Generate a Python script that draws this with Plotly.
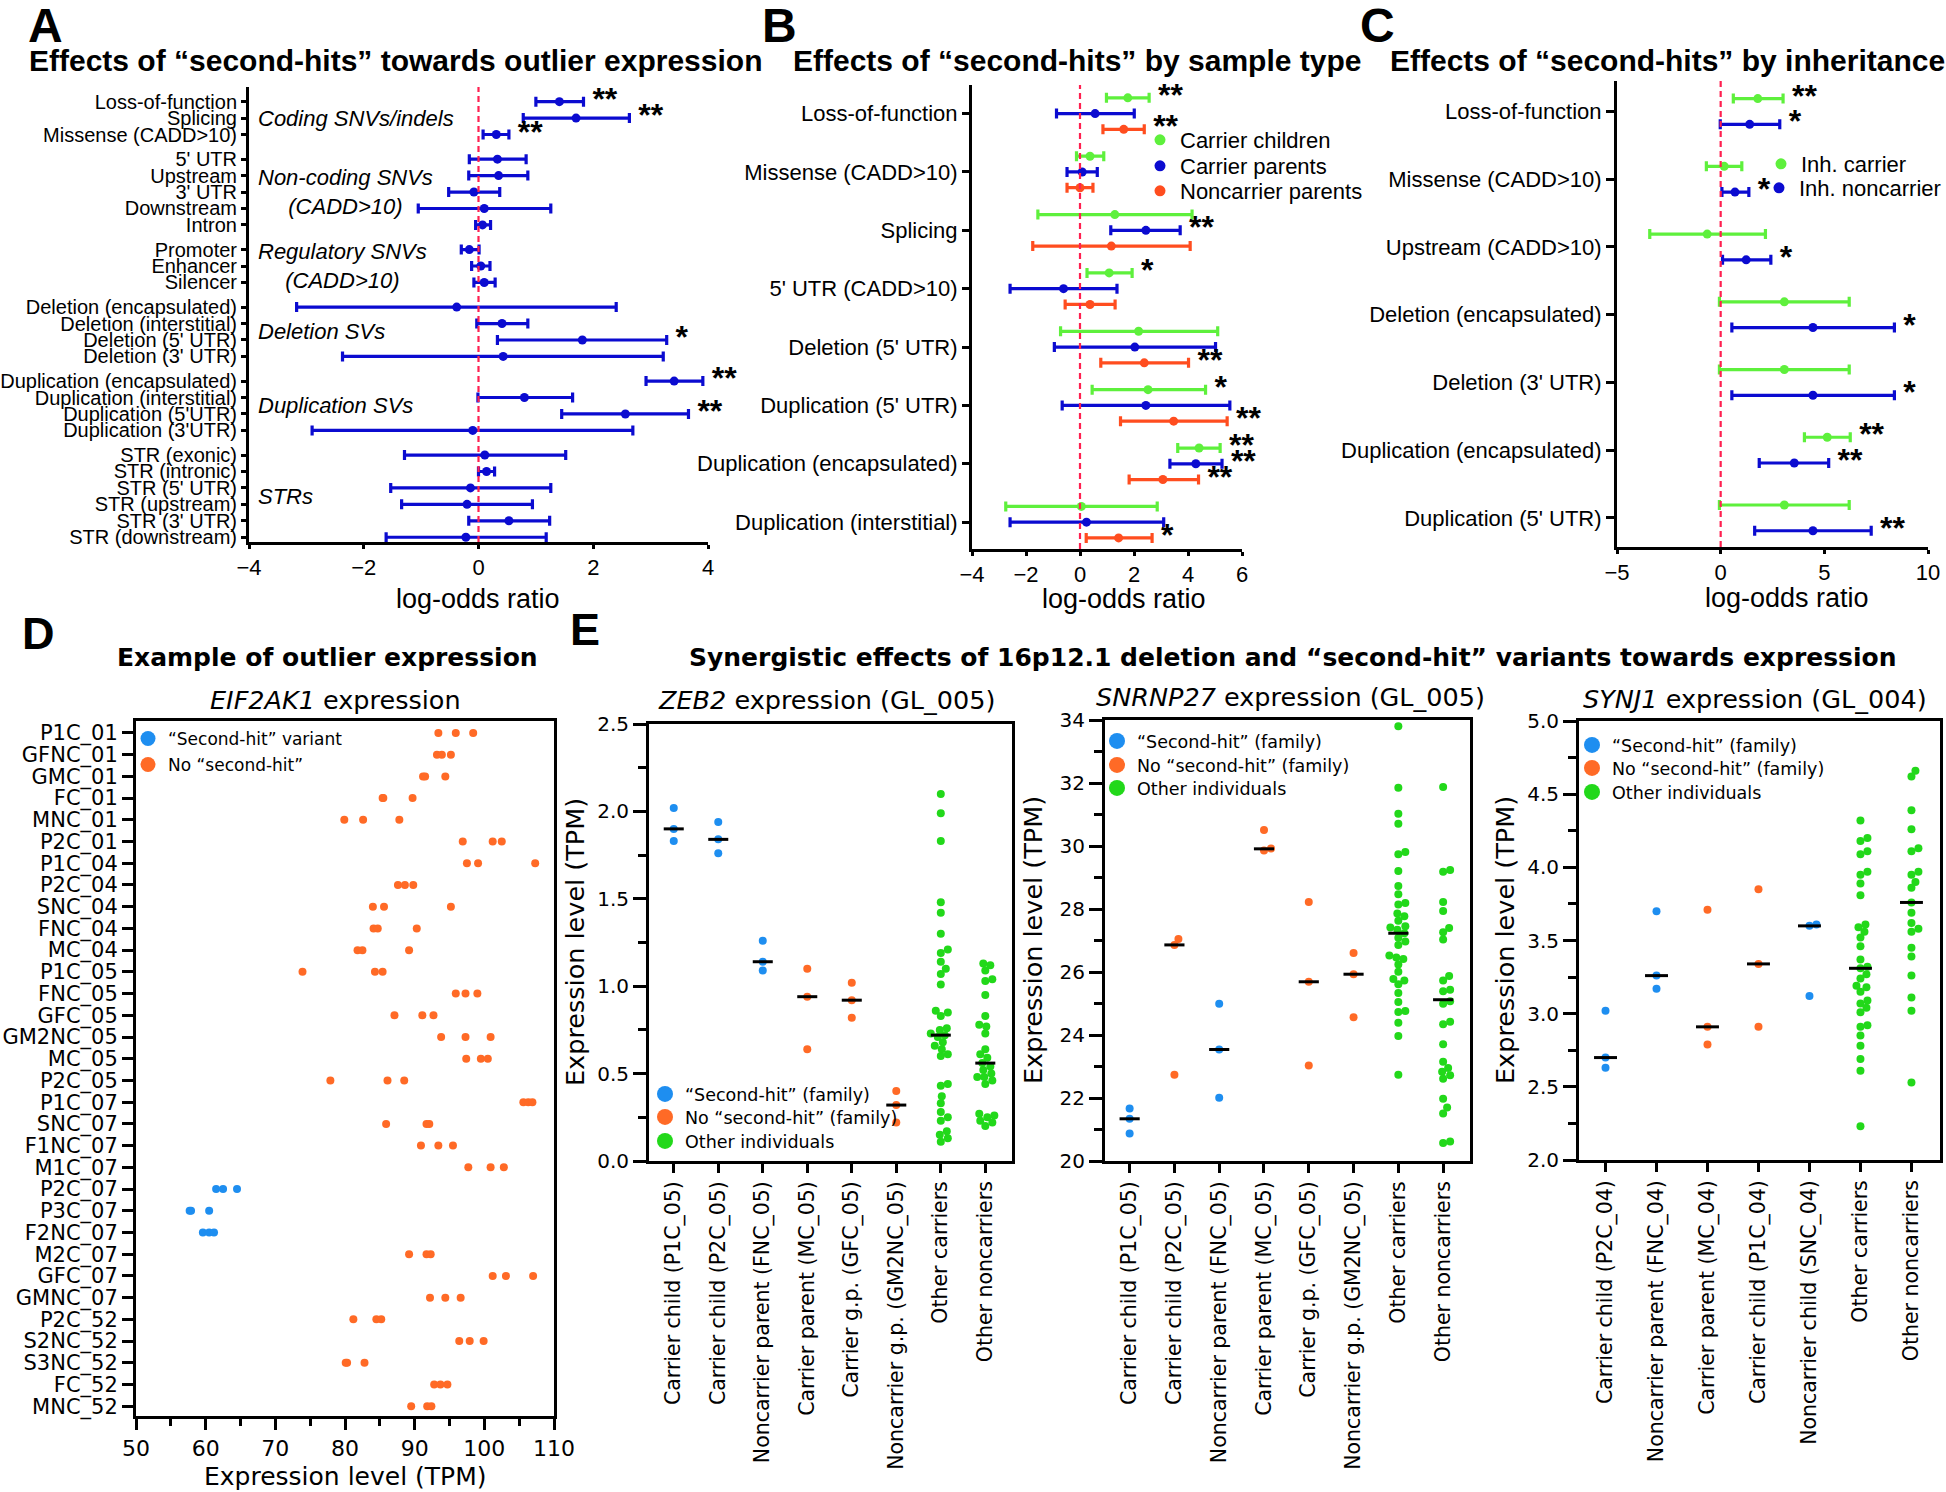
import numpy as np
import plotly.graph_objects as go

W, H = 1946, 1492
def px(x): return x / W
def py(y): return 1 - y / H

FA = "Liberation Sans, Arial, sans-serif"
FD = "DejaVu Sans, Verdana, sans-serif"

BLUE_A = "#0b0bd0"; GREEN_A = "#5ef03c"; RED_A = "#ff4d1f"
BLUE_E = "#1e8ef0"; ORANGE_E = "#ff6a26"; GREEN_E = "#22d81a"

# ---------------- Panel A data ----------------
a_labels = ["Loss-of-function", "Splicing", "Missense (CADD>10)",
            "5' UTR", "Upstream", "3' UTR", "Downstream", "Intron",
            "Promoter", "Enhancer", "Silencer",
            "Deletion (encapsulated)", "Deletion (interstitial)", "Deletion (5' UTR)", "Deletion (3' UTR)",
            "Duplication (encapsulated)", "Duplication (interstitial)", "Duplication (5'UTR)", "Duplication (3'UTR)",
            "STR (exonic)", "STR (intronic)", "STR (5' UTR)", "STR (upstream)", "STR (3' UTR)", "STR (downstream)"]
a_group_names = ["<i>Coding SNVs/indels</i>", "<i>Non-coding SNVs<br>(CADD>10)</i>", "<i>Regulatory SNVs<br>(CADD>10)</i>",
                 "<i>Deletion SVs</i>", "<i>Duplication SVs</i>", "<i>STRs</i>"]
a_group_sizes = [3, 5, 3, 4, 4, 6]
a_est = [1.41, 1.70, 0.31, 0.33, 0.35, -0.08, 0.10, 0.07, -0.16, 0.04, 0.10, -0.38, 0.41, 1.81, 0.43,
         3.41, 0.80, 2.56, -0.10, 0.11, 0.14, -0.14, -0.20, 0.53, -0.22]
a_lo = [1.00, 0.78, 0.08, -0.16, -0.17, -0.52, -1.05, -0.05, -0.30, -0.12, -0.08, -3.17, -0.03, 0.33, -2.37,
        2.92, -0.01, 1.45, -2.90, -1.29, 0.00, -1.53, -1.34, -0.17, -1.61]
a_hi = [1.83, 2.63, 0.53, 0.83, 0.86, 0.37, 1.26, 0.21, 0.01, 0.20, 0.29, 2.40, 0.86, 3.28, 3.22,
        3.91, 1.64, 3.66, 2.69, 1.52, 0.28, 1.26, 0.94, 1.24, 1.18]
a_sig = ["**", "**", "**", "", "", "", "", "", "", "", "", "", "", "*", "",
         "**", "", "**", "", "", "", "", "", "", ""]

# ---------------- Panel B data ----------------
b_cats = ["Loss-of-function", "Missense (CADD>10)", "Splicing", "5' UTR (CADD>10)", "Deletion (5' UTR)",
          "Duplication (5' UTR)", "Duplication (encapsulated)", "Duplication (interstitial)"]
b_child_est = [1.77, 0.37, 1.29, 1.08, 2.17, 2.52, 4.41, 0.05]
b_child_lo = [0.98, -0.13, -1.56, 0.26, -0.72, 0.45, 3.62, -2.75]
b_child_hi = [2.56, 0.88, 4.15, 1.93, 5.10, 4.65, 5.19, 2.86]
b_child_sig = ["**", "", "", "*", "", "*", "**", ""]
b_par_est = [0.56, 0.08, 2.44, -0.61, 2.03, 2.44, 4.29, 0.24]
b_par_lo = [-0.87, -0.48, 1.14, -2.59, -0.95, -0.66, 3.33, -2.59]
b_par_hi = [2.01, 0.64, 3.71, 1.37, 5.02, 5.55, 5.26, 3.10]
b_par_sig = ["", "", "**", "", "", "", "**", ""]
b_nc_est = [1.62, 0.00, 1.16, 0.37, 2.38, 3.47, 3.07, 1.43]
b_nc_lo = [0.85, -0.48, -1.75, -0.55, 0.77, 1.50, 1.82, 0.23]
b_nc_hi = [2.38, 0.48, 4.08, 1.30, 4.02, 5.45, 4.39, 2.67]
b_nc_sig = ["**", "", "", "", "**", "**", "**", "*"]

# ---------------- Panel C data ----------------
c_cats = ["Loss-of-function", "Missense (CADD>10)", "Upstream (CADD>10)", "Deletion (encapsulated)",
          "Deletion (3' UTR)", "Duplication (encapsulated)", "Duplication (5' UTR)"]
c_car_est = [1.79, 0.17, -0.65, 3.07, 3.07, 5.14, 3.07]
c_car_lo = [0.61, -0.69, -3.42, -0.06, -0.06, 4.04, -0.06]
c_car_hi = [3.01, 1.02, 2.16, 6.20, 6.20, 6.25, 6.20]
c_car_sig = ["**", "", "", "", "", "**", ""]
c_non_est = [1.40, 0.69, 1.23, 4.45, 4.45, 3.55, 4.45]
c_non_lo = [-0.02, 0.06, 0.09, 0.54, 0.54, 1.86, 1.64]
c_non_hi = [2.85, 1.36, 2.42, 8.38, 8.38, 5.21, 7.26]
c_non_sig = ["*", "*", "*", "*", "*", "**", "**"]

# ---------------- Panel D data ----------------
d_samples = ["P1C_01", "GFNC_01", "GMC_01", "FC_01", "MNC_01", "P2C_01", "P1C_04", "P2C_04", "SNC_04",
             "FNC_04", "MC_04", "P1C_05", "FNC_05", "GFC_05", "GM2NC_05", "MC_05", "P2C_05", "P1C_07",
             "SNC_07", "F1NC_07", "M1C_07", "P2C_07", "P3C_07", "F2NC_07", "M2C_07", "GFC_07", "GMNC_07",
             "P2C_52", "S2NC_52", "S3NC_52", "FC_52", "MNC_52"]
d_tpm = [[93.4, 95.9, 98.4], [93.2, 93.9, 95.2], [91.2, 91.5, 94.4], [85.4, 85.5, 89.7], [79.9, 82.6, 87.8],
         [96.9, 101.2, 102.5], [97.5, 99.1, 107.3], [87.6, 88.6, 89.8], [84.0, 85.6, 95.2], [84.1, 84.7, 90.3],
         [81.8, 82.5, 89.2], [73.9, 84.3, 85.4], [95.9, 97.3, 99.0], [87.1, 91.1, 92.7], [93.8, 97.3, 100.9],
         [97.4, 99.5, 100.5], [77.9, 86.1, 88.5], [105.6, 106.3, 106.9], [85.9, 91.7, 92.1], [90.9, 93.4, 95.5],
         [97.7, 100.9, 102.8], [61.5, 62.5, 64.5], [57.7, 57.9, 60.5], [59.6, 60.5, 61.2], [89.2, 91.7, 92.3],
         [101.2, 103.1, 107.0], [92.2, 94.4, 96.6], [81.2, 84.5, 85.2], [96.4, 97.9, 99.9], [80.1, 80.3, 82.8],
         [92.8, 93.7, 94.7], [89.5, 91.8, 92.4]]
d_second_hit = ["P2C_07", "P3C_07", "F2NC_07"]

# ---------------- Panel E data ----------------
e_cats_05 = ["Carrier child (P1C_05)", "Carrier child (P2C_05)", "Noncarrier parent (FNC_05)",
             "Carrier parent (MC_05)", "Carrier g.p. (GFC_05)", "Noncarrier g.p. (GM2NC_05)",
             "Other carriers", "Other noncarriers"]
e_cats_04 = ["Carrier child (P2C_04)", "Noncarrier parent (FNC_04)", "Carrier parent (MC_04)",
             "Carrier child (P1C_04)", "Noncarrier child (SNC_04)", "Other carriers", "Other noncarriers"]

e1_group = ["hit", "hit", "hit", "nohit", "nohit", "nohit", "other", "other"]
e1_vals = [[2.02, 1.90, 1.83], [1.94, 1.84, 1.76], [1.26, 1.14, 1.09], [1.10, 0.94, 0.64],
           [1.02, 0.92, 0.82], [0.40, 0.32, 0.22],
           [2.10, 1.99, 1.83, 1.48, 1.42, 1.30, 1.21, 1.19, 1.14, 1.10, 1.07, 1.01, 0.86, 0.85, 0.83, 0.76,
            0.75, 0.73, 0.72, 0.71, 0.68, 0.66, 0.64, 0.61, 0.60, 0.44, 0.43, 0.37, 0.33, 0.28, 0.25, 0.23,
            0.17, 0.15, 0.13, 0.11],
           [1.13, 1.12, 1.09, 1.04, 1.03, 0.95, 0.83, 0.78, 0.77, 0.73, 0.64, 0.61, 0.59, 0.56, 0.54, 0.52,
            0.50, 0.48, 0.48, 0.46, 0.44, 0.27, 0.26, 0.25, 0.23, 0.22, 0.20]]
e1_median = [1.90, 1.84, 1.14, 0.94, 0.92, 0.32, 0.72, 0.56]

e2_group = ["hit", "nohit", "hit", "nohit", "nohit", "nohit", "other", "other"]
e2_vals = [[21.67, 21.34, 20.87], [27.05, 26.86, 22.74], [24.99, 23.54, 22.01], [30.51, 29.92, 29.86],
           [28.22, 25.69, 23.03], [26.60, 25.93, 24.56],
           [33.80, 31.85, 31.02, 30.71, 29.74, 29.81, 29.21, 28.73, 28.47, 28.19, 28.14, 27.86, 27.77, 27.63,
            27.45, 27.41, 27.34, 27.23, 27.09, 26.97, 26.86, 26.52, 26.46, 26.41, 26.24, 26.01, 25.78, 25.73,
            25.61, 25.33, 25.05, 24.76, 24.73, 24.39, 23.97, 22.74],
           [31.87, 29.24, 29.18, 28.22, 27.94, 27.40, 27.26, 27.03, 25.87, 25.73, 25.44, 25.39, 25.07, 24.99,
            24.42, 24.34, 23.71, 23.15, 22.95, 22.83, 22.72, 22.61, 21.98, 21.70, 21.51, 20.62, 20.57]]
e2_median = [21.34, 26.86, 23.54, 29.91, 25.69, 25.93, 27.23, 25.12]

e3_group = ["hit", "hit", "nohit", "nohit", "hit", "other", "other"]
e3_vals = [[3.02, 2.70, 2.63], [3.70, 3.26, 3.17], [3.71, 2.91, 2.79], [3.85, 3.34, 2.91], [3.61, 3.60, 3.12],
           [4.32, 4.20, 4.18, 4.11, 4.09, 3.97, 3.95, 3.89, 3.81, 3.61, 3.59, 3.56, 3.52, 3.46, 3.37, 3.32,
            3.31, 3.27, 3.24, 3.19, 3.18, 3.15, 3.09, 3.07, 3.04, 3.01, 2.92, 2.91, 2.85, 2.78, 2.69, 2.61, 2.23],
           [4.66, 4.62, 4.39, 4.26, 4.13, 4.11, 3.97, 3.95, 3.90, 3.86, 3.76, 3.69, 3.62, 3.58, 3.56, 3.45,
            3.39, 3.26, 3.11, 3.02, 2.53]]
e3_median = [2.70, 3.26, 2.91, 3.34, 3.60, 3.31, 3.76]

e_legend_names = ["“Second-hit” (family)", "No “second-hit” (family)", "Other individuals"]
e_colors = {"hit": BLUE_E, "nohit": ORANGE_E, "other": GREEN_E}

fig = go.Figure()
lay = {}

# ---------------- helpers ----------------
def s_text(sig):
    return [(" " + s) if s else "" for s in sig]

def forest(xa, ya, est, lo, hi, ypos, color, sig):
    est = np.array(est); lo = np.array(lo); hi = np.array(hi)
    fig.add_trace(go.Scatter(
        x=est, y=ypos, mode="markers", xaxis=xa, yaxis=ya, showlegend=False,
        marker=dict(color=color, size=9),
        error_x=dict(type="data", symmetric=False, array=hi - est, arrayminus=est - lo,
                     color=color, thickness=3.2, width=5)))
    fig.add_trace(go.Scatter(
        x=hi, y=ypos, mode="text", xaxis=xa, yaxis=ya, showlegend=False, cliponaxis=False,
        text=s_text(sig), textposition="middle right",
        textfont=dict(family=FA, size=32, color="black", weight="bold")))

def swarm(vals, ypu, xpu, d=7.0):
    vals = np.array(vals, dtype=float)
    order = np.argsort(vals)
    placed = []
    offs = np.zeros(len(vals))
    for i in order:
        yp = vals[i] * ypu
        for k in range(400):
            c = 0 if k == 0 else ((k + 1) // 2) * (1 if k % 2 else -1)
            if all((c - xq) ** 2 + (yp - yq) ** 2 >= d * d for xq, yq in placed):
                break
        placed.append((c, yp))
        offs[i] = c / xpu
    return offs

leg_count = [0]
def legend_item(name, color, msize, xa, ya, text_x, cy, size, family, xanchor="left"):
    leg_count[0] += 1
    lid = "legend" if leg_count[0] == 1 else "legend%d" % leg_count[0]
    fig.add_trace(go.Scatter(x=[None], y=[None], xaxis=xa, yaxis=ya, mode="markers", name=name,
                             marker=dict(color=color, size=msize), legend=lid))
    lx = text_x - 40 if xanchor == "left" else text_x
    lay[lid] = dict(x=px(lx), y=py(cy), xanchor=xanchor, yanchor="middle", bgcolor="rgba(0,0,0,0)",
                    font=dict(family=family, size=size, color="black"), itemwidth=30,
                    borderwidth=0)

# ---------------- Panel A ----------------
a_pos = []
a_group_centers = []
p = 0.0
for n in a_group_sizes:
    start = p
    for _ in range(n):
        a_pos.append(p); p += 1
    a_group_centers.append((start + p - 1) / 2)
    p += 0.5
forest("x", "y", a_est, a_lo, a_hi, a_pos, BLUE_A, a_sig)

# ---------------- Panel B ----------------
b_idx = np.arange(len(b_cats))
forest("x2", "y2", b_child_est, b_child_lo, b_child_hi, b_idx - 0.27, GREEN_A, b_child_sig)
forest("x2", "y2", b_par_est, b_par_lo, b_par_hi, b_idx, BLUE_A, b_par_sig)
forest("x2", "y2", b_nc_est, b_nc_lo, b_nc_hi, b_idx + 0.27, RED_A, b_nc_sig)
for (nm, col), cy in zip([("Carrier children", GREEN_A), ("Carrier parents", BLUE_A),
                          ("Noncarrier parents", RED_A)], [140, 166, 191]):
    legend_item(nm, col, 11, "x2", "y2", 1180, cy, 22, FA)

# ---------------- Panel C ----------------
c_idx = np.arange(len(c_cats))
forest("x3", "y3", c_car_est, c_car_lo, c_car_hi, c_idx - 0.19, GREEN_A, c_car_sig)
forest("x3", "y3", c_non_est, c_non_lo, c_non_hi, c_idx + 0.19, BLUE_A, c_non_sig)
legend_item("Inh. carrier", GREEN_A, 11, "x3", "y3", 1801, 164, 22, FA)
legend_item("Inh. noncarrier", BLUE_A, 11, "x3", "y3", 1946, 188, 22, FA, xanchor="right")

# ---------------- Panel D ----------------
for is_hit, col in [(False, ORANGE_E), (True, BLUE_E)]:
    xs, ys = [], []
    for i, s in enumerate(d_samples):
        if (s in d_second_hit) == is_hit:
            xs += d_tpm[i]; ys += [i] * len(d_tpm[i])
    fig.add_trace(go.Scatter(x=xs, y=ys, mode="markers", xaxis="x4", yaxis="y4", showlegend=False,
                             marker=dict(color=col, size=8)))
legend_item("“Second-hit” variant", BLUE_E, 15, "x4", "y4", 168, 739, 17, FD)
legend_item("No “second-hit”", ORANGE_E, 15, "x4", "y4", 168, 765, 17, FD)

# ---------------- Panel E ----------------
def epanel(xa, ya, vals, groups, medians, ypu, xpu, text_x, cys):
    for g in ["hit", "nohit", "other"]:
        xs, ys = [], []
        for i, v in enumerate(vals):
            if groups[i] == g:
                off = swarm(v, ypu, xpu)
                xs += list(i + off); ys += list(v)
        fig.add_trace(go.Scatter(x=xs, y=ys, mode="markers", xaxis=xa, yaxis=ya, showlegend=False,
                                 marker=dict(color=e_colors[g], size=8)))
    mx, my = [], []
    for i, m in enumerate(medians):
        mx += [i - 0.225, i + 0.225, None]; my += [m, m, None]
    fig.add_trace(go.Scatter(x=mx, y=my, mode="lines", xaxis=xa, yaxis=ya, showlegend=False,
                             line=dict(color="black", width=3)))
    for nm, g, cy in zip(e_legend_names, ["hit", "nohit", "other"], cys):
        legend_item(nm, e_colors[g], 16, xa, ya, text_x, cy, 17.5, FD)

epanel("x5", "y5", e1_vals, e1_group, e1_median, (1161 - 724) / 2.5, 44.4, 685, [1094, 1117, 1141])
epanel("x6", "y6", e2_vals, e2_group, e2_median, (1161 - 720) / 14, 44.8, 1137, [741, 765, 788])
epanel("x7", "y7", e3_vals, e3_group, e3_median, (1160 - 721) / 3.0, 51.1, 1612, [745, 768, 792])

# ---------------- axes ----------------
base = dict(showline=True, linecolor="black", linewidth=3, ticks="outside", tickcolor="black",
            tickwidth=3, ticklen=4, showgrid=False, zeroline=False, automargin=False)

lay.update(
    xaxis=dict(base, domain=[px(249), px(708)], range=[-4, 4], tickvals=[-4, -2, 0, 2, 4], anchor="y",
               tickfont=dict(family=FA, size=22, color="black")),
    yaxis=dict(base, domain=[py(542), py(87)], range=[26.79, -0.89], tickvals=a_pos, ticktext=a_labels,
               anchor="x", ticklen=5, tickfont=dict(family=FA, size=20, color="black")),
    xaxis2=dict(base, domain=[px(972), px(1242)], range=[-4, 6], tickvals=[-4, -2, 0, 2, 4, 6], anchor="y2",
                tickfont=dict(family=FA, size=22, color="black")),
    yaxis2=dict(base, domain=[py(549), py(85)], range=[7.46, -0.49], tickvals=list(b_idx), ticktext=b_cats,
                anchor="x2", ticklen=7, tickfont=dict(family=FA, size=22, color="black")),
    xaxis3=dict(base, domain=[px(1617), px(1928)], range=[-5, 10], tickvals=[-5, 0, 5, 10], anchor="y3",
                tickfont=dict(family=FA, size=22, color="black")),
    yaxis3=dict(base, domain=[py(547), py(81)], range=[6.43, -0.45], tickvals=list(c_idx), ticktext=c_cats,
                anchor="x3", ticklen=8, tickfont=dict(family=FA, size=22, color="black")),
    xaxis4=dict(base, domain=[px(136), px(554)], range=[50, 110], tickvals=list(range(50, 111, 10)),
                anchor="y4", mirror=True, ticklen=11, tickfont=dict(family=FD, size=22, color="black"),
                minor=dict(ticks="outside", ticklen=7, tickwidth=3, tickcolor="black", dtick=5, tick0=50)),
    yaxis4=dict(base, domain=[py(1416), py(721)], range=[31.45, -0.55], tickvals=list(range(len(d_samples))),
                ticktext=d_samples, anchor="x4", mirror=True, ticklen=11,
                tickfont=dict(family=FD, size=21, color="black")),
)
e_specs = [("5", 649, 1012, 724, 1161, [-0.556, 7.6], e_cats_05, [0, 2.5], 0.5, 0.25, ".1f"),
           ("6", 1105, 1470, 720, 1161, [-0.55, 7.6], e_cats_05, [20, 34], 2, 1, "d"),
           ("7", 1579, 1940, 721, 1160, [-0.52, 6.56], e_cats_04, [2, 5], 0.5, 0.25, ".1f")]
for k, x0, x1, y0, y1, xr, cats, yr, dt, mdt, fmt in e_specs:
    lay["xaxis" + k] = dict(base, domain=[px(x0), px(x1)], range=xr, tickvals=list(range(len(cats))),
                            ticktext=cats, tickangle=-90, anchor="y" + k, mirror=True, ticklen=9,
                            tickfont=dict(family=FD, size=20.5, color="black"))
    lay["yaxis" + k] = dict(base, domain=[py(y1), py(y0)], range=yr, dtick=dt, tick0=yr[0], tickformat=fmt,
                            anchor="x" + k, mirror=True, ticklen=13,
                            tickfont=dict(family=FD, size=20, color="black"),
                            minor=dict(ticks="outside", ticklen=8, tickwidth=3, tickcolor="black",
                                       dtick=mdt, tick0=yr[0]))

# ---------------- shapes (zero lines) ----------------
shapes = []
for xa in ["x", "x2", "x3"]:
    shapes.append(dict(type="line", xref=xa, x0=0, x1=0, yref=xa.replace("x", "y") + " domain", y0=0, y1=1,
                       line=dict(color="#ff2050", width=2.2, dash="6px,4px")))

# ---------------- annotations ----------------
ann = []
def text(x, y, s, size, family=FA, bold=False, xanchor="center", yanchor="middle", angle=0):
    ann.append(dict(x=px(x), y=py(y), xref="paper", yref="paper", text=("<b>%s</b>" % s) if bold else s,
                    showarrow=False, xanchor=xanchor, yanchor=yanchor, textangle=angle,
                    font=dict(family=family, size=size, color="black")))

text(26, -3, "A", 48, bold=True, xanchor="left", yanchor="top")
text(760, -3, "B", 48, bold=True, xanchor="left", yanchor="top")
text(1358, -3, "C", 48, bold=True, xanchor="left", yanchor="top")
text(20, 606, "D", 45, bold=True, xanchor="left", yanchor="top")
text(568, 602, "E", 45, bold=True, xanchor="left", yanchor="top")

text(395, 61, "Effects of “second-hits” towards outlier expression", 30, bold=True)
text(1077, 61, "Effects of “second-hits” by sample type", 30, bold=True)
text(1667, 61, "Effects of “second-hits” by inheritance", 30, bold=True)
text(478, 599, "log-odds ratio", 27)
text(1124, 599, "log-odds ratio", 27)
text(1787, 598, "log-odds ratio", 27)

for name, c in zip(a_group_names, a_group_centers):
    ann.append(dict(x=-3.87, y=c, xref="x", yref="y", text=name, showarrow=False, xanchor="left",
                    yanchor="middle", font=dict(family=FA, size=22, color="black")))

text(327, 657, "Example of outlier expression", 25, family=FD, bold=True)
text(335, 700, "<i>EIF2AK1</i> expression", 25.5, family=FD)
text(345, 1476, "Expression level (TPM)", 25, family=FD)

text(1292, 658, "Synergistic effects of 16p12.1 deletion and “second-hit” variants towards expression", 25,
     family=FD, bold=True)
text(826, 700, "<i>ZEB2</i> expression (GL_005)", 25.5, family=FD)
text(1290, 697, "<i>SNRNP27</i> expression (GL_005)", 25.5, family=FD)
text(1755, 699, "<i>SYNJ1</i> expression (GL_004)", 25.5, family=FD)
for xx, yy in [(575, 942), (1033, 940), (1505, 940)]:
    text(xx, yy, "Expression level (TPM)", 25.5, family=FD, angle=-90)

fig.update_layout(**lay)
fig.update_layout(width=W, height=H, margin=dict(l=0, r=0, t=0, b=0, pad=0), paper_bgcolor="white",
                  plot_bgcolor="white", shapes=shapes, annotations=ann, showlegend=True)
fig.write_html("out.html", config={"displayModeBar": False},
               post_script="document.body.style.margin='0px';")
